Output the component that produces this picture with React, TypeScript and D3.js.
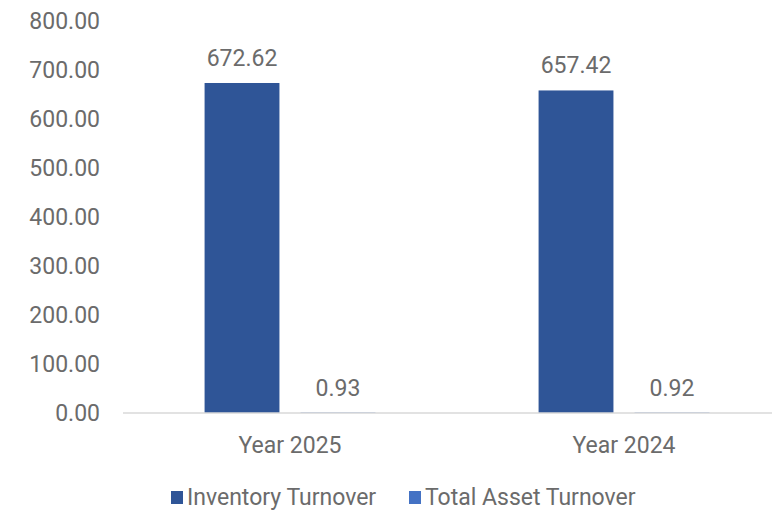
import { useEffect, useRef } from 'react';
import * as d3 from 'd3';

const CATEGORIES = ['Year 2025', 'Year 2024'];
const SERIES = ['Inventory Turnover', 'Total Asset Turnover'];
const INVENTORY_TURNOVER = [672.62, 657.42];
const TOTAL_ASSET_TURNOVER = [0.93, 0.92];
const Y_TICKS = [0, 100, 200, 300, 400, 500, 600, 700, 800];

const COLORS = ['#2F5597', '#4472C4'];
const TEXT_COLOR = '#6B6B6B';
const FONT = 'Roboto, "Noto Sans", sans-serif';
const FONT_SIZE = '23px';

const App = () => {
    const svgRef = useRef<SVGSVGElement | null>(null);

    useEffect(() => {
        if (!svgRef.current) return;

        const svg = d3.select(svgRef.current);
        svg.selectAll('*').remove();

        const width = 772;
        const height = 512;

        // 플롯 영역
        const left = 123;
        const right = 791; // 오른쪽이 잘려 있음
        const top = 20.5;
        const bottom = 413;

        const values = [INVENTORY_TURNOVER, TOTAL_ASSET_TURNOVER];

        const x0 = d3.scaleBand().domain(CATEGORIES).range([left, right]);
        const x1 = d3
            .scaleBand()
            .domain(SERIES)
            .range([0, x0.bandwidth()])
            .paddingInner(0.22)
            .paddingOuter(0.85);

        const y = d3.scaleLinear().domain([0, 800]).range([bottom, top]);

        svg.attr('width', width).attr('height', height);

        // y축 레이블
        svg.append('g')
            .selectAll('text')
            .data(Y_TICKS)
            .enter()
            .append('text')
            .attr('x', 100)
            .attr('y', (d) => y(d))
            .attr('dy', '0.36em')
            .attr('text-anchor', 'end')
            .attr('fill', TEXT_COLOR)
            .style('font-family', FONT)
            .style('font-size', FONT_SIZE)
            .text((d) => d3.format('.2f')(d));

        // 막대
        const groups = svg
            .append('g')
            .selectAll('g')
            .data(CATEGORIES)
            .enter()
            .append('g')
            .attr('transform', (d) => `translate(${x0(d)},0)`);

        groups
            .selectAll('rect')
            .data((_, i) => SERIES.map((s, si) => ({ s, si, v: values[si][i] })))
            .enter()
            .append('rect')
            .attr('x', (d) => x1(d.s) as number)
            .attr('y', (d) => y(d.v))
            .attr('width', x1.bandwidth())
            .attr('height', (d) => bottom - y(d.v))
            .attr('fill', (d) => COLORS[d.si]);

        groups
            .selectAll('text')
            .data((_, i) => SERIES.map((s, si) => ({ s, si, v: values[si][i] })))
            .enter()
            .append('text')
            .attr('x', (d) => (x1(d.s) as number) + x1.bandwidth() / 2)
            .attr('y', (d) => y(d.v) - 17)
            .attr('text-anchor', 'middle')
            .attr('fill', TEXT_COLOR)
            .style('font-family', FONT)
            .style('font-size', FONT_SIZE)
            .text((d) => d3.format('.2f')(d.v));

        // x축 선
        svg.append('line')
            .attr('x1', left)
            .attr('x2', right)
            .attr('y1', bottom)
            .attr('y2', bottom)
            .attr('stroke', '#D9D9D9')
            .attr('stroke-width', 1.5);

        // x축 레이블
        svg.append('g')
            .selectAll('text')
            .data(CATEGORIES)
            .enter()
            .append('text')
            .attr('x', (d) => (x0(d) as number) + x0.bandwidth() / 2)
            .attr('y', 453)
            .attr('text-anchor', 'middle')
            .attr('fill', TEXT_COLOR)
            .style('font-family', FONT)
            .style('font-size', FONT_SIZE)
            .text((d) => d);

        // 범례
        const legendX = [171, 409];
        const legend = svg
            .append('g')
            .selectAll('g')
            .data(SERIES)
            .enter()
            .append('g')
            .attr('transform', (_, i) => `translate(${legendX[i]},491)`);

        legend
            .append('rect')
            .attr('width', 12)
            .attr('height', 13)
            .attr('fill', (_, i) => COLORS[i]);

        legend
            .append('text')
            .attr('x', 16)
            .attr('y', 14)
            .attr('fill', TEXT_COLOR)
            .style('font-family', FONT)
            .style('font-size', FONT_SIZE)
            .text((d) => d);
    }, []);

    return <svg ref={svgRef} style={{ position: 'absolute', left: 0, top: 0 }}></svg>;
};

export default App;
